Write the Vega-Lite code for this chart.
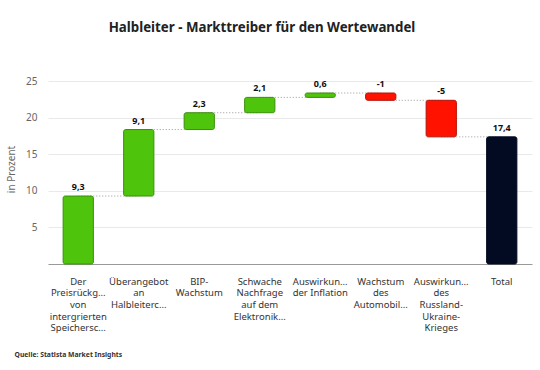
{
  "$schema": "https://vega.github.io/schema/vega-lite/v6.json",
  "width": 484,
  "height": 190,
  "autosize": "none",
  "padding": {"left": 48, "top": 74, "right": 8, "bottom": 106},
  "background": "white",
  "title": {
    "text": "Halbleiter - Markttreiber für den Wertewandel",
    "anchor": "middle",
    "frame": "group",
    "dx": -28,
    "offset": 40,
    "font": "Noto Sans",
    "fontSize": 13.3,
    "fontWeight": "bold",
    "color": "#222222"
  },
  "config": {
    "view": {"stroke": null},
    "font": "Noto Sans",
    "locale": {
      "number": {"decimal": ",", "thousands": ".", "grouping": [3], "currency": ["", " €"], "minus": "-"}
    }
  },
  "data": {
    "values": [
      {"cat": "Der|Preisrückg...|von|intergrierten|Speichersc...", "value": 9.3, "start": 0, "end": 9.3, "type": "pos"},
      {"cat": "Überangebot|an|Halbleiterc...", "value": 9.1, "start": 9.3, "end": 18.4, "type": "pos"},
      {"cat": "BIP-|Wachstum", "value": 2.3, "start": 18.4, "end": 20.7, "type": "pos"},
      {"cat": "Schwache|Nachfrage|auf dem|Elektronik...", "value": 2.1, "start": 20.7, "end": 22.8, "type": "pos"},
      {"cat": "Auswirkun...|der Inflation", "value": 0.6, "start": 22.8, "end": 23.4, "type": "pos"},
      {"cat": "Wachstum|des|Automobil...", "value": -1, "start": 23.4, "end": 22.4, "type": "neg"},
      {"cat": "Auswirkun...|des|Russland-|Ukraine-|Krieges", "value": -5, "start": 22.4, "end": 17.4, "type": "neg"},
      {"cat": "Total", "value": 17.4, "start": 0, "end": 17.4, "type": "total"}
    ]
  },
  "encoding": {
    "x": {
      "field": "cat",
      "type": "nominal",
      "sort": null,
      "scale": {"paddingInner": 0.5, "paddingOuter": 0.25},
      "axis": {
        "title": "Quelle: Statista Market Insights",
        "titleAnchor": "start",
        "titleAlign": "left",
        "titleX": -34,
        "titleY": 87,
        "titleFontSize": 6.8,
        "titleFontWeight": "bold",
        "titleColor": "#333333",
        "labelExpr": "split(datum.value, '|')",
        "labelAngle": 0,
        "labelFontSize": 9.5,
        "labelColor": "#333333",
        "labelLineHeight": 11.7,
        "labelPadding": 12,
        "labelBaseline": "top",
        "labelLimit": 0,
        "ticks": false,
        "domainColor": "#999999",
        "domainWidth": 1.2
      }
    }
  },
  "layer": [
    {
      "transform": [
        {"window": [{"op": "lead", "field": "cat", "as": "next"}]},
        {"filter": "datum.next != null"}
      ],
      "mark": {"type": "rule", "strokeDash": [1, 2], "color": "#999999", "strokeWidth": 1},
      "encoding": {
        "x": {"field": "cat", "type": "nominal", "sort": null},
        "x2": {"field": "next"},
        "y": {"field": "end", "type": "quantitative"}
      }
    },
    {
      "mark": {"type": "bar", "cornerRadius": 2, "strokeWidth": 1},
      "encoding": {
        "y": {
          "field": "start",
          "type": "quantitative",
          "scale": {"domain": [0, 25]},
          "axis": {
            "title": "in Prozent",
            "titleFontSize": 10,
            "titleFontWeight": "normal",
            "titleColor": "#666666",
            "titlePadding": 9,
            "values": [5, 10, 15, 20, 25],
            "labelFontSize": 10,
            "labelColor": "#666666",
            "labelPadding": 11,
            "ticks": false,
            "domain": false,
            "gridColor": "#e9e9e9",
            "gridWidth": 1
          }
        },
        "y2": {"field": "end"},
        "color": {
          "field": "type",
          "type": "nominal",
          "scale": {"domain": ["pos", "neg", "total"], "range": ["#4fc40c", "#ff1300", "#020b22"]},
          "legend": null
        },
        "stroke": {
          "field": "type",
          "type": "nominal",
          "scale": {"domain": ["pos", "neg", "total"], "range": ["#3a8f0c", "#b51208", "#020b22"]},
          "legend": null
        }
      }
    },
    {
      "transform": [{"calculate": "max(datum.start, datum.end)", "as": "top"}],
      "mark": {"type": "text", "baseline": "bottom", "dy": -4, "fontSize": 9, "fontWeight": "bold", "color": "#111111"},
      "encoding": {
        "y": {"field": "top", "type": "quantitative"},
        "text": {"field": "value", "type": "quantitative", "format": ".1~f"}
      }
    }
  ]
}
